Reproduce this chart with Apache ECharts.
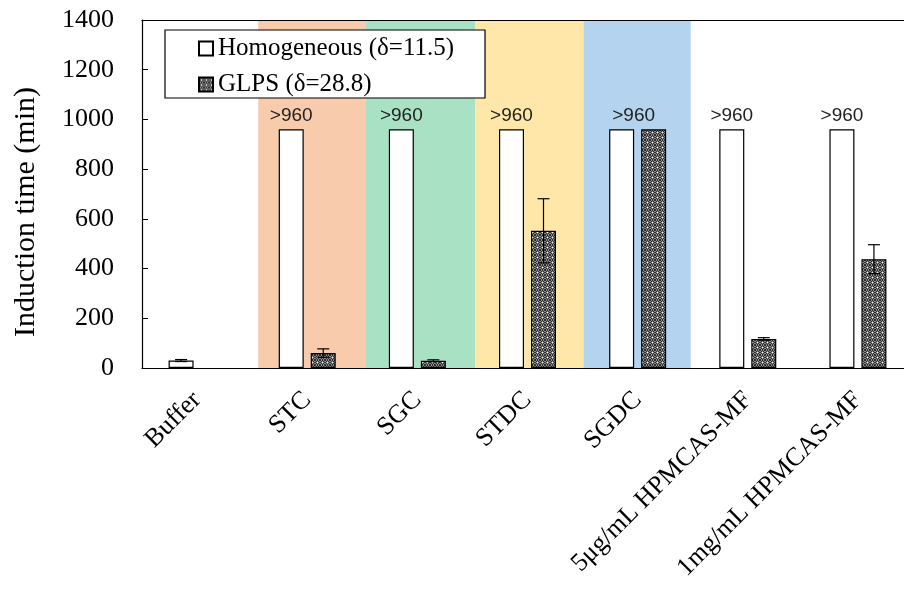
<!DOCTYPE html>
<html>
<head>
<meta charset="utf-8">
<script src="https://cdn.jsdelivr.net/npm/echarts@6/dist/echarts.min.js"></script>
<style>html,body{margin:0;padding:0;background:#fff;overflow:hidden;width:904px;height:611px}#c{width:913px;height:611px}</style>
</head>
<body>
<div id="c"></div>
<script>
const categories = ['Buffer', 'STC', 'SGC', 'STDC', 'SGDC', '5μg/mL HPMCAS-MF', '1mg/mL HPMCAS-MF'];
const homValues = [30, 960, 960, 960, 960, 960, 960];
const homErr = [4, 0, 0, 0, 0, 0, 0];
const homLabels = ['', '>960', '>960', '>960', '>960', '>960', '>960'];
const glpsValues = [null, 60, 29, 552, 960, 117, 438];
const glpsErr = [0, 17, 4, 129, 0, 5, 58];
const seriesNames = ['Homogeneous (δ=11.5)', 'GLPS (δ=28.8)'];
const yMin = 0, yMax = 1400, yStep = 200;
const bandStart = [1.055, 2.027, 3.027, 4.009];
const bandEnd = [2.027, 3.027, 4.009, 4.982];
const bandColors = ['#F8CBAD', '#A9E1C4', '#FFE7A9', '#B3D3EE'];

// dotted pattern for GLPS bars
const pc = document.createElement('canvas');
pc.width = 5; pc.height = 5;
const pctx = pc.getContext('2d');
for (let i = 0; i < 5; i++) for (let j = 0; j < 5; j++) {
  pctx.fillStyle = ((i + j) % 2 === 0) ? '#2e2e2e' : '#8c8c8c';
  pctx.fillRect(i, j, 1, 1);
}
pctx.fillStyle = '#ffffff';
pctx.fillRect(2, 2, 1, 1);
const pattern = { image: pc, repeat: 'repeat' };

const chart = echarts.init(document.getElementById('c'), null, { renderer: 'canvas' });

function errSeries(vals, errs, off) {
  return {
    type: 'custom',
    xAxisIndex: 0, yAxisIndex: 0,
    z: 5,
    silent: true,
    data: vals.map((v, i) => [i, v == null ? 0 : v, errs[i]]),
    renderItem: function (params, api) {
      const e = api.value(2);
      if (!e) return null;
      const i = api.value(0), v = api.value(1);
      const x = api.coord([i, v])[0] + off;
      const yt = api.coord([i, v + e])[1];
      const yb = api.coord([i, v - e])[1];
      const cap = 6;
      const st = { stroke: '#000', lineWidth: 1.2 };
      return { type: 'group', children: [
        { type: 'line', shape: { x1: x, y1: yt, x2: x, y2: yb }, style: st },
        { type: 'line', shape: { x1: x - cap, y1: yt, x2: x + cap, y2: yt }, style: st },
        { type: 'line', shape: { x1: x - cap, y1: yb, x2: x + cap, y2: yb }, style: st }
      ] };
    }
  };
}

const homData = homValues.map((v, i) => {
  const item = { value: v };
  if (categories[i] === 'SGDC') item.label = { offset: [12, 0] };
  return item;
});

chart.setOption({
  animation: false,
  backgroundColor: '#fff',
  textStyle: { fontFamily: 'Liberation Serif' },
  grid: { left: 142, top: 20, right: 0, height: 348, containLabel: false },
  legend: {
    orient: 'vertical',
    left: 165, top: 30,
    padding: [6, 31, 1, 33],
    itemGap: 11,
    itemWidth: 14, itemHeight: 14,
    backgroundColor: '#fff',
    borderColor: '#000', borderWidth: 1.2,
    icon: 'rect',
    textStyle: { fontFamily: 'Liberation Serif', fontSize: 25, color: '#000' },
    data: seriesNames
  },
  xAxis: [
    {
      type: 'category', data: categories, position: 'bottom', z: 10,
      axisLine: { lineStyle: { color: '#000', width: 1.2 } },
      axisTick: { show: false },
      axisLabel: { rotate: 45, interval: 0, margin: 28, fontSize: 26, color: '#000', fontFamily: 'Liberation Serif' },
      splitLine: { show: false }
    },
    {
      type: 'value', min: 0, max: categories.length, position: 'top', z: 10,
      axisLine: { show: true, onZero: false, lineStyle: { color: '#000', width: 1.2 } },
      axisTick: { show: false }, axisLabel: { show: false }, splitLine: { show: false }
    }
  ],
  yAxis: {
    type: 'value', min: yMin, max: yMax, interval: yStep, z: 10,
    name: 'Induction time (min)', nameLocation: 'middle', nameGap: 101,
    nameTextStyle: { fontFamily: 'Liberation Serif', fontSize: 30, color: '#000', padding: [0, 36, 0, 0] },
    axisLine: { show: true, lineStyle: { color: '#000', width: 1.2 } },
    axisTick: { show: true, inside: true, length: 6, lineStyle: { color: '#000' } },
    axisLabel: { margin: 28, fontSize: 26, color: '#000', fontFamily: 'Liberation Serif', formatter: v => String(v) },
    splitLine: { show: false }
  },
  series: [
    {
      type: 'line', xAxisIndex: 1, yAxisIndex: 0, data: [], silent: true, z: 0,
      markArea: {
        silent: true,
        data: bandStart.map((s, i) => [
          { xAxis: s, yAxis: yMin, itemStyle: { color: bandColors[i], opacity: 1 } },
          { xAxis: bandEnd[i], yAxis: yMax }
        ])
      }
    },
    {
      name: seriesNames[0], type: 'bar', xAxisIndex: 0, yAxisIndex: 0,
      barWidth: 25, barGap: '28%', z: 3,
      itemStyle: { color: '#fff', borderColor: '#000', borderWidth: 1.2 },
      label: {
        show: true, position: 'top', distance: 4,
        fontFamily: 'Liberation Sans', fontSize: 19, color: '#222',
        formatter: p => homLabels[p.dataIndex]
      },
      data: homData
    },
    {
      name: seriesNames[1], type: 'bar', xAxisIndex: 0, yAxisIndex: 0,
      barWidth: 25, z: 3,
      itemStyle: { color: pattern, borderColor: '#000', borderWidth: 1.2 },
      data: glpsValues
    },
    errSeries(homValues, homErr, -16),
    errSeries(glpsValues, glpsErr, 16)
  ]
});
</script>
</body>
</html>
